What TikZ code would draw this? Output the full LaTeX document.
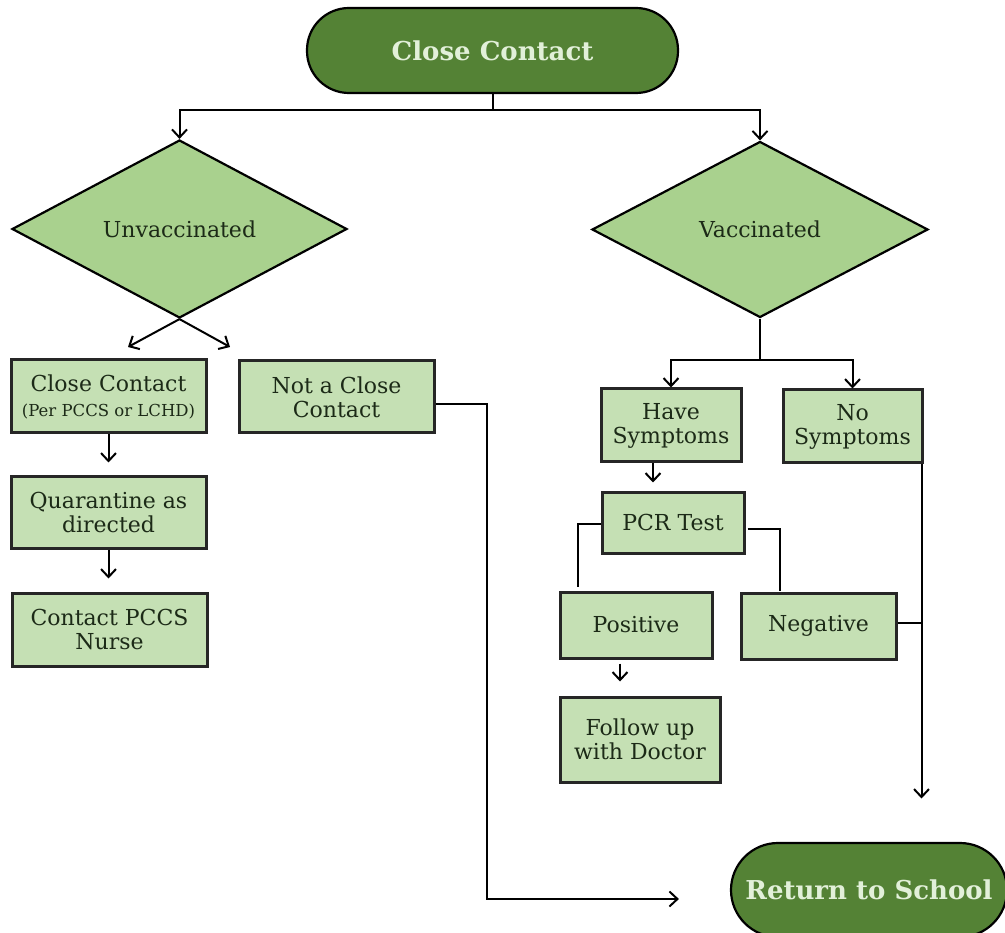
\documentclass[tikz,border=0pt]{standalone}
\usepackage{fontspec}
\setmainfont{DejaVu Serif}
\usetikzlibrary{shapes.geometric,arrows.meta,calc}
\definecolor{darkg}{HTML}{548235}
\definecolor{lightt}{HTML}{E2F0D9}
\definecolor{boxg}{HTML}{C5E0B4}
\definecolor{diag}{HTML}{A9D18E}
\definecolor{txt}{HTML}{1C2A17}
\tikzset{
  term/.style={draw=black, line width=2.2pt, fill=darkg, text=lightt, rectangle,
    font=\fontsize{26}{30}\selectfont\bfseries, inner sep=0pt},
  pbox/.style={draw=black!85, line width=3pt, fill=boxg, text=txt, rectangle,
    align=center, inner sep=0pt, font=\fontsize{22}{24}\selectfont},
  dec/.style={draw=black, line width=2.2pt, fill=diag, text=txt, diamond,
    inner sep=0pt, font=\fontsize{22}{24}\selectfont},
  conn/.style={draw=black, line width=2pt},
  arr/.style={conn, -{Straight Barb[length=8pt,width=15pt,line width=2pt]}},
}
\begin{document}
\begin{tikzpicture}[x=1pt,y=-1pt]
\useasboundingbox (0,0) rectangle (1005,933);
% terminals
\node[term, rounded corners=42pt, minimum width=371pt, minimum height=85pt] (top) at (492.5,50.5) {Close Contact};
\node[term, rounded corners=47pt, minimum width=276pt, minimum height=94pt] (ret) at (869,890) {Return to School};
% decisions
\node[dec, minimum width=335pt, minimum height=178pt] (unvac) at (179.5,229) {Unvaccinated};
\node[dec, minimum width=336pt, minimum height=176pt] (vac) at (760,229.5) {Vaccinated};
% boxes
\node[pbox, minimum width=195pt, minimum height=73pt] (cc) at (108.5,396.5) {Close Contact\\[1pt]{\fontsize{16.5}{19}\selectfont (Per PCCS or LCHD)}};
\node[pbox, minimum width=195pt, minimum height=72pt] (nacc) at (336.5,397) {Not a Close\\Contact};
\node[pbox, minimum width=195pt, minimum height=71pt] (quar) at (108.5,512.5) {Quarantine as\\directed};
\node[pbox, minimum width=195pt, minimum height=73pt] (nurse) at (109.5,629.5) {Contact PCCS\\Nurse};
\node[pbox, minimum width=140pt, minimum height=73pt] (have) at (671,425.5) {Have\\Symptoms};
\node[pbox, minimum width=139pt, minimum height=73pt] (nosym) at (852.5,426.5) {No\\Symptoms};
\node[pbox, minimum width=142pt, minimum height=61pt] (pcr) at (673,522.5) {PCR Test};
\node[pbox, minimum width=152pt, minimum height=66pt] (pos) at (636,625) {Positive};
\node[pbox, minimum width=155pt, minimum height=66pt] (neg) at (818.5,626) {Negative};
\node[pbox, minimum width=160pt, minimum height=85pt] (follow) at (640,739.5) {Follow up\\with Doctor};
% junctions
\coordinate (j1) at (492.5,110);
\coordinate (a1) at (128,347);
\coordinate (a2) at (230,347);
\coordinate (j3) at (760,360);
\coordinate (j2) at (487,899);
\path ([xshift=-2pt]nosym.south east) ++(0,334) coordinate (j4);
% connectors
\draw[conn] (top.south) -- (j1);
\draw[arr] (j1) -| (unvac.north);
\draw[arr] (j1) -| (vac.north);
\draw[arr] (unvac.south) -- (a1);
\draw[arr] (unvac.south) -- (a2);
\draw[arr, shorten >=13pt] (cc.south) -- (cc.south |- quar.north);
\draw[arr, shorten >=13pt] (quar.south) -- (quar.south |- nurse.north);
\draw[arr] ([yshift=-7pt]nacc.east) -| (j2) -- ([xshift=-51pt,yshift=-9pt]ret.west);
\draw[conn] (vac.south) -- (j3);
\draw[arr] (j3) -| (have.north);
\draw[arr] (j3) -| (nosym.north);
\draw[arr, shorten >=8pt] ([xshift=-18pt]have.south) -- ([xshift=-18pt]have.south |- pcr.north);
\draw[conn, shorten >=4pt] ([yshift=-1.5pt]pcr.west) -| ([xshift=-58pt]pos.north);
\draw[conn, shorten <=2pt, shorten >=1pt] ([yshift=-6.5pt]pcr.east) -| ([xshift=-38.5pt]neg.north);
\draw[arr] ([xshift=-2pt]nosym.south east) -- (j4);
\draw[conn] ([yshift=3pt]neg.east) -- ([yshift=3pt]neg.east -| j4);
\draw[arr, shorten <=4pt, shorten >=14pt] ([xshift=-16pt]pos.south) -- ([xshift=-16pt]pos.south |- follow.north);
\end{tikzpicture}
\end{document}
